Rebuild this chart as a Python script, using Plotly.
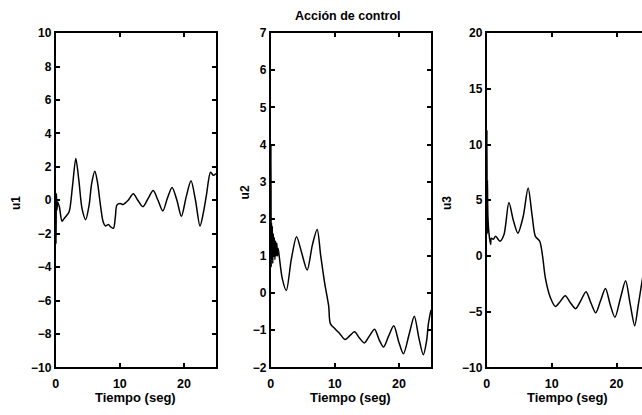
import plotly.graph_objects as go

# Control signals u1, u2, u3 versus time (seconds)
t1 = [0, 0.04, 0.1, 0.18, 0.3, 0.57, 0.97, 1.3, 1.6, 2.1, 2.6, 3.13, 3.6, 4.1, 4.67,
      5.2, 5.6, 6.1, 6.5, 6.97, 7.4, 7.75, 8.2, 8.6, 9.0, 9.3, 9.54, 10.05, 10.5,
      11.3, 12.1, 12.8, 13.6, 14.4, 15.2, 15.95, 16.7, 17.4, 18.15, 18.9, 19.6,
      20.35, 21.1, 21.8, 22.5, 23.0, 23.5, 24.15, 24.6, 25.0]
u1 = [-0.3, -2.6, 0.4, -0.6, -0.1, -0.4, -1.25, -1.1, -0.96, -0.67, 0.8, 2.5, 1.2,
      -0.5, -1.16, -0.3, 1.0, 1.73, 1.1, -0.29, -1.3, -1.54, -1.45, -1.6, -1.68,
      -1.0, -0.29, -0.2, -0.25, 0.0, 0.39, 0.0, -0.39, 0.1, 0.58, 0.0, -0.64, 0.1,
      0.77, 0.0, -0.96, 0.2, 1.16, 0.0, -1.54, -0.8, 0.29, 1.68, 1.49, 1.6]

t2 = [0, 0.03, 0.07, 0.12, 0.18, 0.25, 0.32, 0.4, 0.48, 0.56, 0.65, 0.75, 0.85,
      0.95, 1.05, 1.15, 1.29, 1.8, 2.43, 3.2, 4.03, 4.8, 5.69, 6.5, 7.24, 7.8,
      8.42, 9.04, 9.3, 10.08, 10.8, 11.6, 12.3, 13.07, 13.8, 14.6, 15.4, 16.2,
      16.9, 17.6, 18.4, 19.2, 19.95, 20.7, 21.6, 22.4, 23.1, 23.8, 24.3, 24.6, 25.0]
u2 = [0.8, 4.0, 0.7, 1.9, 0.9, 1.8, 0.8, 1.6, 1.0, 1.5, 0.9, 1.4, 1.0, 1.35, 1.0,
      1.2, 1.04, 0.39, 0.07, 0.9, 1.52, 1.1, 0.62, 1.3, 1.71, 1.0, 0.26, -0.35,
      -0.82, -0.97, -1.1, -1.25, -1.15, -1.04, -1.2, -1.34, -1.15, -0.97, -1.25,
      -1.45, -1.15, -0.88, -1.3, -1.63, -1.1, -0.62, -1.2, -1.66, -1.3, -0.82, -0.45]

t3 = [0, 0.03, 0.07, 0.11, 0.18, 0.35, 0.6, 0.7, 1.0, 1.38, 2.04, 2.65, 3.42, 4.1,
      4.8, 5.6, 6.38, 7.0, 7.5, 8.17, 8.6, 9.04, 9.8, 10.6, 11.3, 12.1, 12.9, 13.7,
      14.5, 15.3, 16.05, 16.8, 17.55, 18.3, 19.0, 19.75, 20.6, 21.4, 22.1, 22.8,
      23.3, 23.85, 24.3]
u3 = [3.0, 11.3, 2.0, 6.8, 3.6, 2.0, 1.04, 1.6, 1.5, 1.76, 1.32, 1.9, 4.79, 3.2,
      2.05, 3.5, 6.09, 3.6, 1.76, 1.32, 0.0, -1.99, -3.72, -4.53, -4.1, -3.58,
      -4.2, -4.73, -4.0, -3.2, -4.2, -5.1, -4.0, -2.92, -4.3, -5.5, -3.8, -2.22,
      -4.3, -6.26, -4.6, -2.57, -1.0]

x_ticks = [0, 10, 20]
y1_ticks = [-10, -8, -6, -4, -2, 0, 2, 4, 6, 8, 10]
y2_ticks = [-2, -1, 0, 1, 2, 3, 4, 5, 6, 7]
y3_ticks = [-10, -5, 0, 5, 10, 15, 20]

title_text = "Acción de control"
x_title = "Tiempo (seg)"
y_titles = ["u1", "u2", "u3"]

W, H = 642, 415
FONT = dict(family="Liberation Sans", color="black", weight="bold")

fig = go.Figure()
line = dict(color="black", width=1.5, shape="spline", smoothing=0.8)
fig.add_trace(go.Scatter(x=t1, y=u1, mode="lines", line=line, xaxis="x", yaxis="y"))
fig.add_trace(go.Scatter(x=t2, y=u2, mode="lines", line=line, xaxis="x2", yaxis="y2"))
fig.add_trace(go.Scatter(x=t3, y=u3, mode="lines", line=line, xaxis="x3", yaxis="y3"))

# panel boxes in pixels: (left, right)
panels = [(53, 214), (269, 430), (486, 642)]
top_px, bot_px = 27, 373
ydom = [(H - bot_px) / H, (H - top_px) / H]

def xaxis(dom, rng, anchor):
    return dict(domain=dom, range=rng, anchor=anchor, tickvals=x_ticks,
                ticks="inside", ticklen=4, tickwidth=1.5, tickcolor="black",
                showline=True, linewidth=2, linecolor="black", mirror="ticks",
                showgrid=False, zeroline=False, ticklabelstandoff=4,
                tickfont=dict(size=12.5, **FONT))

def yaxis(rng, ticks, anchor, mirror="ticks"):
    return dict(domain=ydom, range=rng, anchor=anchor, tickvals=ticks,
                ticks="inside", ticklen=4, tickwidth=1.5, tickcolor="black",
                showline=True, linewidth=2, linecolor="black", mirror=mirror,
                showgrid=False, zeroline=False,
                tickfont=dict(size=12, **FONT))

doms = [[l / W, r / W] for l, r in panels]
# the third panel runs past the right edge of the page
x3_max = 25 * (panels[2][1] - panels[2][0]) / (649 - 486)

fig.update_layout(
    width=W, height=H,
    margin=dict(l=0, r=0, t=0, b=0),
    paper_bgcolor="white", plot_bgcolor="white",
    showlegend=False,
    xaxis=xaxis(doms[0], [0, 25], "y"),
    xaxis2=xaxis(doms[1], [0, 25], "y2"),
    xaxis3=xaxis(doms[2], [0, x3_max], "y3"),
    yaxis=yaxis([-10, 10], y1_ticks, "x"),
    yaxis2=yaxis([-2, 7], y2_ticks, "x2"),
    yaxis3=yaxis([-10, 20], y3_ticks, "x3", mirror=False),
)

def label(text, cx, cy, size, angle=0):
    return dict(text=text, x=cx / W, y=1 - cy / H, xref="paper", yref="paper",
                xanchor="center", yanchor="middle", showarrow=False,
                textangle=angle, font=dict(size=size, **FONT))

ann = [label(title_text, 347, 9, 12.5)]
for cx in [133.5, 349.5, 567.5]:
    ann.append(label(x_title, cx, 404, 13))
for (cx, cy), txt in zip([(13, 203), (243, 192), (446, 203)], y_titles):
    ann.append(label(txt, cx, cy, 12, angle=-90))
fig.update_layout(annotations=ann)

fig.write_html("out.html", config={"displayModeBar": False})
